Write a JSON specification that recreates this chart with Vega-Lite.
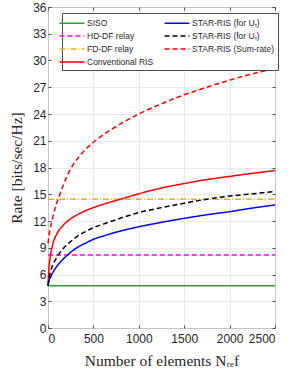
{
  "$schema": "https://vega.github.io/schema/vega-lite/v6.json",
  "width": 227,
  "height": 321,
  "autosize": {"type": "none"},
  "padding": {"left": 48, "top": 7, "right": 19, "bottom": 51},
  "background": "white",
  "config": {
    "view": {"stroke": "#4d4d4d", "strokeWidth": 1},
    "axis": {
      "domain": false,
      "grid": true,
      "gridColor": "#e3e3e3",
      "gridWidth": 0.8,
      "tickColor": "#4d4d4d",
      "tickSize": -3,
      "labelFont": "Liberation Sans",
      "labelFontSize": 12,
      "labelColor": "#262626",
      "titleFont": "Liberation Serif",
      "titleFontWeight": "normal",
      "titleFontSize": 15.5,
      "titleColor": "#262626"
    }
  },
  "datasets": {
    "rates": [
      {"series": "SISO", "N": 0, "rate": 4.75},
      {"series": "SISO", "N": 2500, "rate": 4.75},
      {"series": "HD-DF relay", "N": 0, "rate": 8.2},
      {"series": "HD-DF relay", "N": 2500, "rate": 8.2},
      {"series": "FD-DF relay", "N": 0, "rate": 14.45},
      {"series": "FD-DF relay", "N": 2500, "rate": 14.45},
      {"series": "Conventional RIS", "N": 0, "rate": 4.75},
      {"series": "Conventional RIS", "N": 10, "rate": 6.6},
      {"series": "Conventional RIS", "N": 25, "rate": 8.0},
      {"series": "Conventional RIS", "N": 50, "rate": 9.3},
      {"series": "Conventional RIS", "N": 100, "rate": 10.6},
      {"series": "Conventional RIS", "N": 175, "rate": 11.6},
      {"series": "Conventional RIS", "N": 250, "rate": 12.25},
      {"series": "Conventional RIS", "N": 350, "rate": 12.85},
      {"series": "Conventional RIS", "N": 500, "rate": 13.5},
      {"series": "Conventional RIS", "N": 650, "rate": 14.0},
      {"series": "Conventional RIS", "N": 800, "rate": 14.45},
      {"series": "Conventional RIS", "N": 1000, "rate": 15.05},
      {"series": "Conventional RIS", "N": 1250, "rate": 15.7},
      {"series": "Conventional RIS", "N": 1500, "rate": 16.2},
      {"series": "Conventional RIS", "N": 1750, "rate": 16.65},
      {"series": "Conventional RIS", "N": 2000, "rate": 17.0},
      {"series": "Conventional RIS", "N": 2250, "rate": 17.35},
      {"series": "Conventional RIS", "N": 2500, "rate": 17.65},
      {"series": "STAR-RIS (for U_t)", "N": 0, "rate": 4.75},
      {"series": "STAR-RIS (for U_t)", "N": 10, "rate": 5.25},
      {"series": "STAR-RIS (for U_t)", "N": 30, "rate": 5.75},
      {"series": "STAR-RIS (for U_t)", "N": 60, "rate": 6.35},
      {"series": "STAR-RIS (for U_t)", "N": 100, "rate": 6.95},
      {"series": "STAR-RIS (for U_t)", "N": 150, "rate": 7.55},
      {"series": "STAR-RIS (for U_t)", "N": 200, "rate": 8.05},
      {"series": "STAR-RIS (for U_t)", "N": 250, "rate": 8.5},
      {"series": "STAR-RIS (for U_t)", "N": 325, "rate": 9.05},
      {"series": "STAR-RIS (for U_t)", "N": 430, "rate": 9.6},
      {"series": "STAR-RIS (for U_t)", "N": 500, "rate": 9.95},
      {"series": "STAR-RIS (for U_t)", "N": 620, "rate": 10.35},
      {"series": "STAR-RIS (for U_t)", "N": 750, "rate": 10.75},
      {"series": "STAR-RIS (for U_t)", "N": 1000, "rate": 11.35},
      {"series": "STAR-RIS (for U_t)", "N": 1250, "rate": 11.85},
      {"series": "STAR-RIS (for U_t)", "N": 1500, "rate": 12.3},
      {"series": "STAR-RIS (for U_t)", "N": 1750, "rate": 12.7},
      {"series": "STAR-RIS (for U_t)", "N": 2000, "rate": 13.05},
      {"series": "STAR-RIS (for U_t)", "N": 2250, "rate": 13.45},
      {"series": "STAR-RIS (for U_t)", "N": 2500, "rate": 13.8},
      {"series": "STAR-RIS (for U_r)", "N": 0, "rate": 4.75},
      {"series": "STAR-RIS (for U_r)", "N": 10, "rate": 5.5},
      {"series": "STAR-RIS (for U_r)", "N": 30, "rate": 6.4},
      {"series": "STAR-RIS (for U_r)", "N": 60, "rate": 7.25},
      {"series": "STAR-RIS (for U_r)", "N": 100, "rate": 7.95},
      {"series": "STAR-RIS (for U_r)", "N": 150, "rate": 8.7},
      {"series": "STAR-RIS (for U_r)", "N": 200, "rate": 9.25},
      {"series": "STAR-RIS (for U_r)", "N": 250, "rate": 9.7},
      {"series": "STAR-RIS (for U_r)", "N": 325, "rate": 10.3},
      {"series": "STAR-RIS (for U_r)", "N": 430, "rate": 10.9},
      {"series": "STAR-RIS (for U_r)", "N": 500, "rate": 11.25},
      {"series": "STAR-RIS (for U_r)", "N": 620, "rate": 11.7},
      {"series": "STAR-RIS (for U_r)", "N": 750, "rate": 12.15},
      {"series": "STAR-RIS (for U_r)", "N": 1000, "rate": 12.95},
      {"series": "STAR-RIS (for U_r)", "N": 1250, "rate": 13.5},
      {"series": "STAR-RIS (for U_r)", "N": 1500, "rate": 14.0},
      {"series": "STAR-RIS (for U_r)", "N": 1750, "rate": 14.45},
      {"series": "STAR-RIS (for U_r)", "N": 2000, "rate": 14.8},
      {"series": "STAR-RIS (for U_r)", "N": 2250, "rate": 15.05},
      {"series": "STAR-RIS (for U_r)", "N": 2500, "rate": 15.3},
      {"series": "STAR-RIS (Sum-rate)", "N": 0, "rate": 9.5},
      {"series": "STAR-RIS (Sum-rate)", "N": 20, "rate": 10.9},
      {"series": "STAR-RIS (Sum-rate)", "N": 50, "rate": 12.3},
      {"series": "STAR-RIS (Sum-rate)", "N": 80, "rate": 13.5},
      {"series": "STAR-RIS (Sum-rate)", "N": 120, "rate": 14.7},
      {"series": "STAR-RIS (Sum-rate)", "N": 175, "rate": 16.2},
      {"series": "STAR-RIS (Sum-rate)", "N": 253, "rate": 17.9},
      {"series": "STAR-RIS (Sum-rate)", "N": 345, "rate": 19.25},
      {"series": "STAR-RIS (Sum-rate)", "N": 430, "rate": 20.2},
      {"series": "STAR-RIS (Sum-rate)", "N": 521, "rate": 21.0},
      {"series": "STAR-RIS (Sum-rate)", "N": 620, "rate": 21.75},
      {"series": "STAR-RIS (Sum-rate)", "N": 750, "rate": 22.6},
      {"series": "STAR-RIS (Sum-rate)", "N": 1000, "rate": 24.0},
      {"series": "STAR-RIS (Sum-rate)", "N": 1250, "rate": 25.15},
      {"series": "STAR-RIS (Sum-rate)", "N": 1500, "rate": 26.15},
      {"series": "STAR-RIS (Sum-rate)", "N": 1750, "rate": 27.0},
      {"series": "STAR-RIS (Sum-rate)", "N": 2000, "rate": 27.8},
      {"series": "STAR-RIS (Sum-rate)", "N": 2250, "rate": 28.5},
      {"series": "STAR-RIS (Sum-rate)", "N": 2500, "rate": 29.1}
    ]
  },
  "data": {"name": "rates"},
  "resolve": {"axis": {"x": "independent", "y": "independent"}},
  "layer": [
    {
      "mark": {"type": "line", "strokeWidth": 1.5, "interpolate": "monotone"},
      "encoding": {
        "x": {
          "field": "N", "type": "quantitative",
          "scale": {"domain": [0, 2500], "nice": false},
          "axis": {"values": [0, 500, 1000, 1500, 2000, 2500], "format": "d", "title": "Number of elements Nᵣₑf", "labelPadding": 8, "titlePadding": 9}
        },
        "y": {
          "field": "rate", "type": "quantitative",
          "scale": {"domain": [0, 36], "nice": false},
          "axis": {"values": [0, 3, 6, 9, 12, 15, 18, 21, 24, 27, 30, 33, 36], "title": "Rate [bits/sec/Hz]", "labelPadding": 5, "titlePadding": 8}
        },
        "color": {
          "field": "series", "type": "nominal",
          "scale": {
            "domain": ["SISO", "HD-DF relay", "FD-DF relay", "Conventional RIS", "STAR-RIS (for U_t)", "STAR-RIS (for U_r)", "STAR-RIS (Sum-rate)"],
            "range": ["#2f9e2f", "#ff00ff", "#edb120", "#ff0000", "#0000ff", "#000000", "#ff0000"]
          },
          "legend": {
            "title": null,
            "orient": "none",
            "legendX": 14,
            "legendY": 6,
            "columns": 2,
            "symbolType": "M-2,0H2",
            "symbolSize": 156,
            "symbolStrokeWidth": 1.5,
            "labelFont": "Liberation Sans",
            "labelFontSize": 8.5,
            "labelColor": "#262626",
            "labelOffset": 8,
            "columnPadding": 7,
            "rowPadding": 1,
            "padding": 3,
            "strokeColor": "#4d4d4d",
            "fillColor": "white",
            "labelExpr": "replace(replace(datum.label, 'U_t', 'Uₜ'), 'U_r', 'Uₜ')"
          }
        },
        "strokeDash": {
          "field": "series", "type": "nominal",
          "scale": {
            "domain": ["SISO", "HD-DF relay", "FD-DF relay", "Conventional RIS", "STAR-RIS (for U_t)", "STAR-RIS (for U_r)", "STAR-RIS (Sum-rate)"],
            "range": [[1, 0], [5, 3], [6, 2, 1, 2], [1, 0], [1, 0], [5, 3], [5, 3]]
          },
          "legend": null
        }
      }
    },
    {
      "mark": {"type": "point", "opacity": 0},
      "encoding": {
        "x": {
          "field": "N", "type": "quantitative",
          "scale": {"domain": [0, 2500], "nice": false},
          "axis": {"orient": "top", "values": [0, 500, 1000, 1500, 2000, 2500], "labels": false, "title": null, "grid": false}
        },
        "y": {
          "field": "rate", "type": "quantitative",
          "scale": {"domain": [0, 36], "nice": false},
          "axis": {"orient": "right", "values": [0, 3, 6, 9, 12, 15, 18, 21, 24, 27, 30, 33, 36], "labels": false, "title": null, "grid": false}
        }
      }
    }
  ]
}
